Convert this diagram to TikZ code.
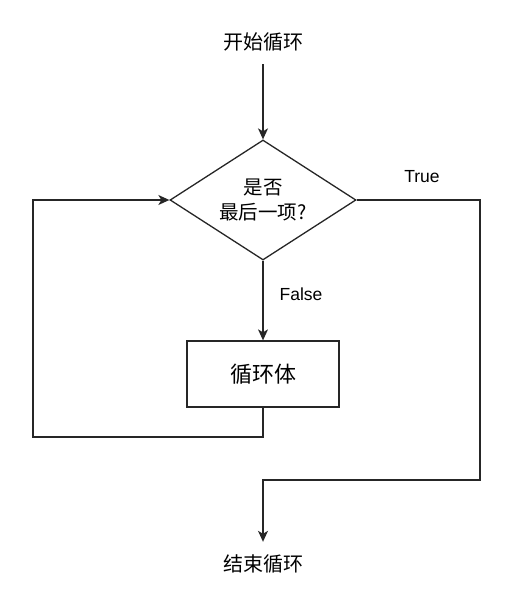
\documentclass[tikz,border=0pt]{standalone}
\usepackage{fontspec}
\usetikzlibrary{shapes.geometric,arrows.meta}
\newfontfamily\cjk{Noto Sans CJK SC}
\newfontfamily\lat{Liberation Sans}
\begin{document}
\begin{tikzpicture}[x=1pt,y=-1pt,
  line/.style={draw=black!85,line width=1.3pt},
  arr/.style={line,-{Stealth[length=11pt,width=10pt,inset=3pt]}},
  txt/.style={inner sep=0pt,minimum height=44pt,font=\cjk\fontsize{20}{24}\selectfont},
  dia/.style={line,shape=diamond,minimum width=186pt,minimum height=120pt,inner sep=0pt,aspect=1.55,align=center,font=\cjk\fontsize{19.5}{25}\selectfont},
  bodybox/.style={line,rectangle,minimum width=152pt,minimum height=66pt,inner sep=0pt,font=\cjk\fontsize{22}{26}\selectfont},
  lbl/.style={inner sep=0pt,font=\lat\fontsize{17.5}{20}\selectfont}]
\useasboundingbox (0,0) rectangle (511,597);
\node[txt] (start) at (263,42) {开始循环};
\node[dia] (dec) at (263,200) {是否\\最后一项?};
\node[bodybox] (body) at (263,374) {循环体};
\node[txt] (end) at (263,564) {结束循环};
\coordinate (tr) at (480,480);
\coordinate (lb) at (33,437);
\draw[arr] (start.south) -- (dec.north);
\draw[arr] (dec.south) -- (body.north);
\draw[arr] (dec.east) -| (tr) -- (tr -| end) -- (end.north);
\draw[arr] (body.south) |- (lb) |- (dec.west);
\node[lbl] (true) at (422,177) {True};
\node[lbl] (false) at (301,294) {False};
\end{tikzpicture}
\end{document}
